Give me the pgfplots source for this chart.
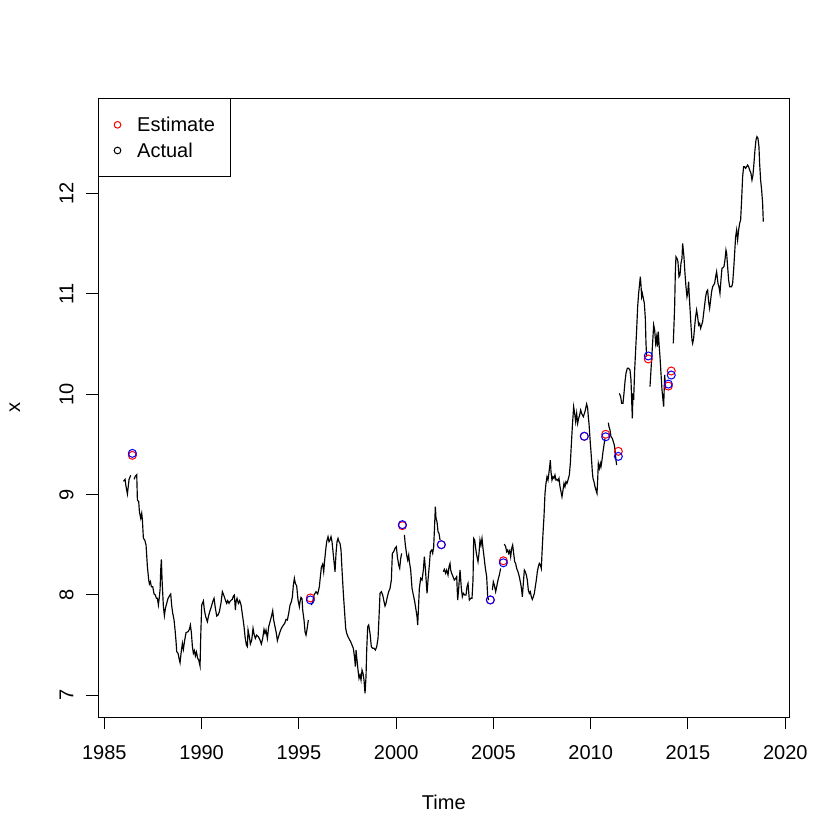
\documentclass[border=0pt,12pt]{standalone}
\usepackage{fontspec}
\setmainfont{Liberation Sans}
\usepackage{pgfplots}
\pgfplotsset{compat=1.18}

% estimates and actual values at the held-out dates
\pgfplotstableread{
t       est    act
1986.44 9.39   9.41
1995.59 7.97   7.95
2000.32 8.69   8.70
2002.32 8.50   8.50
2004.84 7.95   7.95
2005.51 8.34   8.32
2009.67 9.58   9.58
2010.77 9.60   9.575
2011.42 9.43   9.38
2012.96 10.35  10.38
2013.99 10.08  10.10
2014.14 10.23  10.19
}\points

\begin{document}
\begin{tikzpicture}
\useasboundingbox (0,0) rectangle (504pt,504pt);
\begin{axis}[
  at={(59pt,73.8pt)}, anchor=south west,
  scale only axis, width=414.6pt, height=371.2pt,
  xmin=1984.69, xmax=2020.21, ymin=6.784, ymax=12.946,
  xtick={1985,1990,...,2020}, ytick={7,8,...,12},
  xtick pos=bottom, ytick pos=left,
  tick align=outside, major tick length=7.2pt,
  every tick/.style={black, line width=0.6pt},
  axis line style={line width=0.6pt},
  /pgf/number format/assume math mode=true,
  /pgf/number format/1000 sep={},
  xticklabel style={anchor=north, inner sep=0pt, text height=8.6pt, text depth=0pt, yshift=-9.4pt},
  yticklabel style={xshift=-7.6pt, rotate=90, anchor=south, inner sep=0pt, text height=8.6pt, text depth=0pt},
  xlabel={Time}, ylabel={x},
  every axis x label/.style={at={(axis description cs:0.5,-0.1374)}, anchor=center, inner sep=0pt, text height=8.6pt, text depth=0pt},
  every axis y label/.style={at={(axis description cs:-0.1206,0.5)}, rotate=90, anchor=center, inner sep=0pt, text height=6.2pt, text depth=0pt},
  legend style={at={(0,1)}, anchor=north west, draw=black, line width=0.6pt, fill=white,
    inner xsep=9.2pt, inner ysep=11.3pt, row sep=6.8pt, column sep=9.8pt,
    nodes={inner sep=0pt, text height=8.6pt, text depth=0pt}},
  legend cell align=left,
  legend image code/.code={\draw[#1] plot coordinates {(0pt,0pt)};},
  unbounded coords=jump,
]
\addplot[black, line width=0.7pt, mark=none, forget plot] table[x=t, y=v] {
t v
1985.978 9.131
1986.064 9.151
1986.115 9.078
1986.184 9.005
1986.270 9.151
1986.355 9.191
1986.440 nan
1986.527 9.151
1986.595 9.184
1986.664 9.198
1986.698 8.945
1986.766 8.929
1986.801 8.829
1986.869 8.763
1986.920 8.813
1986.955 8.746
1987.006 8.564
1987.075 8.547
1987.143 8.497
1987.212 8.281
1987.280 8.149
1987.315 8.109
1987.366 8.132
1987.417 8.082
1987.486 8.082
1987.554 8.009
1987.623 7.999
1987.674 7.966
1987.726 7.966
1987.777 7.900
1987.829 7.983
1987.863 8.049
1987.897 8.248
1987.931 8.354
1987.966 8.149
1988.034 7.883
1988.086 7.793
1988.137 7.866
1988.205 7.916
1988.274 7.966
1988.343 7.989
1988.411 8.009
1988.462 7.890
1988.514 7.817
1988.582 7.750
1988.634 7.651
1988.685 7.535
1988.719 7.435
1988.788 7.418
1988.839 7.368
1988.891 7.325
1988.942 7.418
1989.011 7.518
1989.062 7.458
1989.131 7.551
1989.199 7.624
1989.302 7.634
1989.370 7.657
1989.422 7.700
1989.473 7.624
1989.525 7.485
1989.576 7.418
1989.627 7.445
1989.679 7.392
1989.730 7.432
1989.799 7.368
1989.850 7.352
1989.919 7.292
1989.953 7.584
1990.004 7.900
1990.090 7.940
1990.141 7.850
1990.210 7.783
1990.296 7.734
1990.347 7.783
1990.415 7.833
1990.501 7.883
1990.570 7.933
1990.638 7.966
1990.707 7.866
1990.775 7.790
1990.844 7.800
1990.912 7.833
1990.998 7.923
1991.066 8.032
1991.135 7.999
1991.221 7.949
1991.289 7.916
1991.341 7.943
1991.409 7.916
1991.461 7.936
1991.529 7.949
1991.580 7.956
1991.632 7.989
1991.683 7.999
1991.735 7.850
1991.769 7.933
1991.820 7.966
1991.889 7.916
1991.957 7.943
1992.026 7.900
1992.112 7.783
1992.180 7.684
1992.231 7.584
1992.300 7.501
1992.351 7.485
1992.386 7.651
1992.454 7.584
1992.505 7.511
1992.574 7.550
1992.642 7.667
1992.694 7.610
1992.762 7.567
1992.831 7.600
1992.916 7.584
1993.002 7.550
1993.070 7.511
1993.139 7.567
1993.207 7.657
1993.259 7.617
1993.310 7.650
1993.379 7.567
1993.447 7.683
1993.516 7.733
1993.584 7.783
1993.653 7.843
1993.704 7.750
1993.773 7.683
1993.841 7.617
1993.893 7.544
1993.961 7.590
1994.030 7.633
1994.098 7.667
1994.150 7.683
1994.201 7.700
1994.270 7.716
1994.338 7.756
1994.407 7.750
1994.475 7.816
1994.544 7.899
1994.612 7.932
1994.664 7.982
1994.715 8.098
1994.767 8.165
1994.818 8.115
1994.886 8.088
1994.955 7.949
1995.023 7.882
1995.058 7.932
1995.109 7.975
1995.161 7.962
1995.195 7.849
1995.263 7.750
1995.315 7.633
1995.366 7.600
1995.418 7.657
1995.486 7.750
1995.560 nan
1995.640 7.899
1995.709 7.932
1995.777 7.999
1995.880 8.032
1995.966 8.009
1996.051 8.082
1996.103 8.181
1996.154 8.274
1996.223 8.307
1996.274 8.231
1996.326 8.347
1996.377 8.447
1996.428 8.530
1996.497 8.580
1996.548 8.530
1996.600 8.546
1996.651 8.580
1996.702 8.530
1996.754 8.430
1996.805 8.331
1996.857 8.231
1996.908 8.414
1996.959 8.530
1997.011 8.563
1997.062 8.530
1997.114 8.513
1997.165 8.447
1997.216 8.248
1997.285 8.015
1997.353 7.816
1997.405 7.667
1997.456 7.617
1997.525 7.584
1997.593 7.557
1997.662 7.534
1997.730 7.501
1997.799 7.467
1997.867 7.368
1997.902 7.285
1997.936 7.451
1997.987 7.351
1998.039 7.252
1998.090 7.169
1998.142 7.202
1998.193 7.152
1998.244 7.252
1998.296 7.218
1998.347 7.152
1998.399 7.020
1998.450 7.186
1998.485 7.451
1998.536 7.684
1998.587 7.700
1998.656 7.617
1998.724 7.484
1998.793 7.468
1998.862 7.468
1998.930 7.451
1998.999 7.484
1999.067 7.567
1999.119 7.783
1999.170 8.016
1999.238 8.032
1999.307 7.999
1999.376 7.933
1999.427 7.889
1999.478 7.916
1999.547 7.982
1999.615 8.032
1999.684 8.065
1999.752 8.148
1999.804 8.414
1999.872 8.431
1999.941 8.464
2000.009 8.480
2000.061 8.381
2000.129 8.298
2000.181 8.265
2000.232 8.364
2000.283 8.414
2000.350 nan
2000.421 8.597
2000.472 8.497
2000.540 8.397
2000.592 8.348
2000.643 8.397
2000.678 8.331
2000.746 8.248
2000.815 8.065
2000.883 7.999
2000.952 7.933
2001.020 7.850
2001.072 7.783
2001.106 7.700
2001.157 7.916
2001.191 8.065
2001.260 8.165
2001.329 8.148
2001.397 8.248
2001.449 8.381
2001.500 8.265
2001.551 8.115
2001.586 8.016
2001.637 8.148
2001.705 8.298
2001.757 8.431
2001.825 8.447
2001.877 8.414
2001.928 8.480
2001.980 8.713
2002.014 8.879
2002.048 8.763
2002.100 8.729
2002.151 8.630
2002.202 8.613
2002.254 8.547
2002.330 nan
2002.425 8.231
2002.476 8.255
2002.545 8.215
2002.596 8.248
2002.665 8.198
2002.716 8.281
2002.768 8.314
2002.802 8.248
2002.853 8.215
2002.922 8.182
2002.990 8.148
2003.059 8.165
2003.110 8.182
2003.162 7.949
2003.213 8.065
2003.282 8.248
2003.350 8.065
2003.402 7.982
2003.453 8.016
2003.521 7.999
2003.590 7.999
2003.641 8.082
2003.693 8.115
2003.761 7.949
2003.830 7.966
2003.898 7.966
2003.950 8.148
2003.984 8.563
2004.035 8.547
2004.087 8.464
2004.138 8.397
2004.207 8.331
2004.258 8.414
2004.309 8.547
2004.361 8.497
2004.412 8.563
2004.464 8.464
2004.515 8.381
2004.584 8.265
2004.652 8.182
2004.704 7.982
2004.755 7.949
2004.840 nan
2004.943 8.048
2004.994 8.131
2005.046 8.098
2005.114 8.032
2005.166 8.082
2005.234 8.148
2005.303 8.198
2005.371 8.264
2005.470 nan
2005.560 8.507
2005.628 8.480
2005.680 8.430
2005.731 8.447
2005.782 8.414
2005.834 8.440
2005.885 8.380
2005.937 8.463
2005.988 8.497
2006.039 8.414
2006.091 8.331
2006.142 8.314
2006.193 8.264
2006.262 8.231
2006.331 8.181
2006.399 8.115
2006.451 8.048
2006.485 7.982
2006.536 8.115
2006.588 8.248
2006.639 8.231
2006.690 8.198
2006.742 8.148
2006.793 8.048
2006.845 8.015
2006.896 8.032
2006.947 7.982
2006.999 7.955
2007.050 7.982
2007.102 8.015
2007.153 8.082
2007.204 8.148
2007.256 8.231
2007.307 8.281
2007.358 8.314
2007.410 8.297
2007.461 8.264
2007.496 8.414
2007.547 8.613
2007.598 8.779
2007.650 9.011
2007.701 9.111
2007.753 9.177
2007.804 9.144
2007.838 9.194
2007.890 9.277
2007.924 9.343
2007.958 9.227
2008.009 9.144
2008.061 9.177
2008.112 9.161
2008.164 9.194
2008.215 9.144
2008.267 9.151
2008.318 9.137
2008.369 9.161
2008.421 9.078
2008.472 9.028
2008.523 8.978
2008.575 9.044
2008.626 9.111
2008.678 9.078
2008.729 9.127
2008.780 9.111
2008.832 9.144
2008.900 9.194
2008.952 9.310
2009.003 9.493
2009.055 9.675
2009.089 9.775
2009.123 9.874
2009.175 9.808
2009.226 9.725
2009.277 9.808
2009.329 9.708
2009.380 9.758
2009.431 9.791
2009.483 9.841
2009.534 9.808
2009.620 9.775
2009.705 9.825
2009.791 9.901
2009.843 9.858
2009.877 9.775
2009.912 9.708
2009.946 9.609
2009.980 9.509
2010.014 9.426
2010.049 9.327
2010.083 9.227
2010.117 9.161
2010.169 9.127
2010.220 9.078
2010.271 9.044
2010.323 9.011
2010.357 9.144
2010.391 9.310
2010.443 9.260
2010.494 9.310
2010.528 9.277
2010.580 9.343
2010.631 9.426
2010.683 9.493
2010.734 9.559
2010.800 nan
2010.905 9.715
2010.940 9.675
2010.991 9.642
2011.042 9.576
2011.111 9.559
2011.162 9.526
2011.214 9.493
2011.248 9.443
2011.299 9.343
2011.333 9.293
2011.420 nan
2011.471 10.007
2011.539 9.975
2011.591 9.908
2011.659 9.908
2011.710 10.008
2011.762 10.124
2011.813 10.207
2011.882 10.257
2011.950 10.257
2012.019 10.240
2012.070 10.141
2012.105 9.942
2012.139 9.759
2012.173 10.008
2012.207 9.942
2012.259 10.240
2012.310 10.440
2012.361 10.639
2012.413 10.871
2012.464 11.004
2012.516 11.104
2012.550 11.170
2012.584 11.087
2012.618 10.971
2012.653 11.004
2012.704 10.954
2012.756 10.904
2012.807 10.755
2012.841 10.506
2012.875 10.373
2012.960 nan
2013.047 10.074
2013.098 10.240
2013.150 10.406
2013.201 10.572
2013.235 10.689
2013.287 10.639
2013.338 10.506
2013.390 10.572
2013.424 10.473
2013.475 10.622
2013.509 10.506
2013.561 10.373
2013.612 10.207
2013.664 10.041
2013.715 9.942
2013.749 9.875
2013.801 10.191
2013.852 10.058
2014.000 nan
2014.245 10.505
2014.314 10.870
2014.348 11.202
2014.382 11.368
2014.434 11.352
2014.485 11.319
2014.537 11.169
2014.588 11.186
2014.639 11.302
2014.691 11.352
2014.725 11.501
2014.759 11.435
2014.793 11.368
2014.845 11.202
2014.896 11.070
2014.948 10.970
2014.982 11.003
2015.033 11.119
2015.068 10.970
2015.119 10.804
2015.153 10.688
2015.205 10.538
2015.239 10.505
2015.290 10.555
2015.342 10.671
2015.393 10.771
2015.444 10.837
2015.496 10.771
2015.547 10.688
2015.599 10.704
2015.650 10.655
2015.701 10.688
2015.753 10.721
2015.804 10.804
2015.856 10.887
2015.907 10.970
2015.958 11.020
2016.010 11.036
2016.061 10.920
2016.113 10.854
2016.164 10.937
2016.215 11.020
2016.267 11.070
2016.318 11.086
2016.370 11.103
2016.421 11.169
2016.472 11.219
2016.541 11.103
2016.592 11.070
2016.644 11.004
2016.695 11.136
2016.747 11.253
2016.798 11.259
2016.849 11.269
2016.901 11.336
2016.952 11.435
2016.987 11.402
2017.038 11.269
2017.089 11.136
2017.141 11.070
2017.192 11.070
2017.244 11.070
2017.295 11.103
2017.346 11.236
2017.398 11.402
2017.449 11.568
2017.500 11.634
2017.552 11.535
2017.603 11.634
2017.655 11.701
2017.706 11.734
2017.757 11.933
2017.809 12.166
2017.860 12.265
2017.912 12.265
2017.963 12.249
2018.014 12.265
2018.066 12.282
2018.117 12.265
2018.169 12.232
2018.237 12.199
2018.289 12.132
2018.340 12.182
2018.391 12.298
2018.443 12.431
2018.494 12.531
2018.546 12.564
2018.597 12.547
2018.648 12.464
2018.683 12.298
2018.734 12.132
2018.786 12.033
2018.837 11.900
2018.871 11.717
};
\addplot[only marks, mark=o, mark size=2.4pt, red, line width=0.6pt, forget plot] table[x=t, y=est] {\points};
\addplot[only marks, mark=o, mark size=2.4pt, blue, line width=0.6pt, forget plot] table[x=t, y=act] {\points};
\addlegendimage{mark=o, mark size=2pt, red, draw=none, line width=0.6pt}
\addlegendentry{Estimate}
\addlegendimage{mark=o, mark size=2pt, black, draw=none, line width=0.6pt}
\addlegendentry{Actual}
\end{axis}
\end{tikzpicture}
\end{document}
